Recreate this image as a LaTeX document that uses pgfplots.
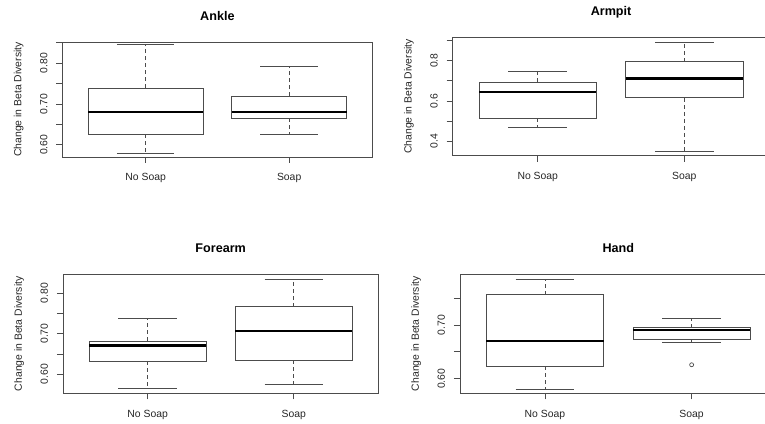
\documentclass[border=0pt]{standalone}
\usepackage{fontspec}
\setmainfont{Liberation Sans}
\usepackage{pgfplots}
\pgfplotsset{compat=1.18}
\usepgfplotslibrary{statistics}
\definecolor{lc}{gray}{0.3}
\pgfplotsset{
  rbox/.style={
    scale only axis,
    xmin=0.42, xmax=2.58,
    xtick={1,2}, xticklabels={No Soap,Soap},
    xtick pos=bottom, ytick pos=left,
    tick align=outside, major tick length=6pt,
    every tick/.style={lc, line width=0.8pt},
    axis line style={lc, line width=0.8pt},
    tick label style={font=\fontsize{10.4}{12}\selectfont, text=black!85},
    xticklabel style={anchor=base, inner sep=0pt, yshift=-18pt},
    yticklabel style={xshift=-9pt, rotate=90, anchor=base, inner sep=0pt},
    ylabel={Change in Beta Diversity},
    every axis y label/.style={at={(rel axis cs:0,0.5)}, xshift=-41pt, rotate=90, anchor=base, inner sep=0pt, font=\fontsize{10.4}{12}\selectfont, text=black!85},
    every axis title/.style={at={(rel axis cs:0.5,1)}, yshift=21.5pt, anchor=base, inner sep=0pt, font=\bfseries\fontsize{12.6}{14}\selectfont},
    boxplot/draw direction=y,
    boxplot/draw/box/.code={\draw[lc, line width=0.8pt, fill=white]
      (boxplot box cs:\pgfplotsboxplotvalue{lower quartile},0) rectangle
      (boxplot box cs:\pgfplotsboxplotvalue{upper quartile},1);},
    boxplot/draw/median/.code={\draw[black, line width=2.4pt]
      (boxplot box cs:\pgfplotsboxplotvalue{median},0) --
      (boxplot box cs:\pgfplotsboxplotvalue{median},1);},
    boxplot/draw/lower whisker/.code={
      \draw[lc, line width=0.8pt, dash pattern=on 4pt off 3pt]
      (boxplot box cs:\pgfplotsboxplotvalue{lower quartile},0.5) --
      (boxplot box cs:\pgfplotsboxplotvalue{lower whisker},0.5);
      \draw[lc, line width=0.8pt]
      (boxplot whisker cs:\pgfplotsboxplotvalue{lower whisker},0) --
      (boxplot whisker cs:\pgfplotsboxplotvalue{lower whisker},1);},
    boxplot/draw/upper whisker/.code={
      \draw[lc, line width=0.8pt, dash pattern=on 4pt off 3pt]
      (boxplot box cs:\pgfplotsboxplotvalue{upper quartile},0.5) --
      (boxplot box cs:\pgfplotsboxplotvalue{upper whisker},0.5);
      \draw[lc, line width=0.8pt]
      (boxplot whisker cs:\pgfplotsboxplotvalue{upper whisker},0) --
      (boxplot whisker cs:\pgfplotsboxplotvalue{upper whisker},1);},
    boxplot/box extend=0.8,
    boxplot/whisker extend=0.4,
  },
}
\begin{document}
\begin{tikzpicture}
\useasboundingbox (0pt,0pt) rectangle (765pt,423pt);
\clip (0pt,0pt) rectangle (765pt,423pt);
% Ankle
\begin{axis}[rbox, at={(62.4pt,381pt)}, anchor=north west,
  width=310pt, height=115pt, ymin=0.570, ymax=0.852,
  ytick={0.60,0.65,0.70,0.75,0.80,0.85}, yticklabels={0.60,,0.70,,0.80,},
  title={Ankle}]
\addplot+[lc, boxplot prepared={draw position=1, lower whisker=0.580, lower quartile=0.6255, median=0.681, upper quartile=0.7386, upper whisker=0.845}] coordinates {};
\addplot+[lc, boxplot prepared={draw position=2, lower whisker=0.626, lower quartile=0.665, median=0.680, upper quartile=0.719, upper whisker=0.7926}] coordinates {};
\end{axis}
% Armpit
\begin{axis}[rbox, at={(452.7pt,385.7pt)}, anchor=north west,
  width=316.7pt, height=118.4pt, ymin=0.3285, ymax=0.916,
  ytick={0.4,0.5,0.6,0.7,0.8,0.9}, yticklabels={0.4,,0.6,,0.8,},
  title={Armpit}]
\addplot+[lc, boxplot prepared={draw position=1, lower whisker=0.469, lower quartile=0.514, median=0.646, upper quartile=0.693, upper whisker=0.745}] coordinates {};
\addplot+[lc, boxplot prepared={draw position=2, lower whisker=0.350, lower quartile=0.616, median=0.711, upper quartile=0.794, upper whisker=0.893}] coordinates {};
\end{axis}
% Forearm
\begin{axis}[rbox, at={(63pt,148.7pt)}, anchor=north west,
  width=315.4pt, height=119pt, ymin=0.553, ymax=0.846,
  ytick={0.60,0.65,0.70,0.75,0.80}, yticklabels={0.60,,0.70,,0.80},
  title={Forearm}]
\addplot+[lc, boxplot prepared={draw position=1, lower whisker=0.564, lower quartile=0.632, median=0.671, upper quartile=0.682, upper whisker=0.738}] coordinates {};
\addplot+[lc, boxplot prepared={draw position=2, lower whisker=0.575, lower quartile=0.634, median=0.7065, upper quartile=0.766, upper whisker=0.833}] coordinates {};
\end{axis}
% Hand
\begin{axis}[rbox, at={(459.9pt,148.7pt)}, anchor=north west,
  width=316.8pt, height=119pt, ymin=0.573, ymax=0.794,
  ytick={0.60,0.65,0.70,0.75}, yticklabels={0.60,,0.70,},
  title={Hand}]
\addplot+[lc, boxplot prepared={draw position=1, lower whisker=0.581, lower quartile=0.6236, median=0.6696, upper quartile=0.7564, upper whisker=0.785}] coordinates {};
\addplot+[lc, mark=o, mark size=2pt, mark options={lc, line width=0.7pt}, boxplot prepared={draw position=2, lower whisker=0.667, lower quartile=0.6733, median=0.6907, upper quartile=0.695, upper whisker=0.7125}] coordinates {(2,0.626)};
\end{axis}
\end{tikzpicture}
\end{document}
